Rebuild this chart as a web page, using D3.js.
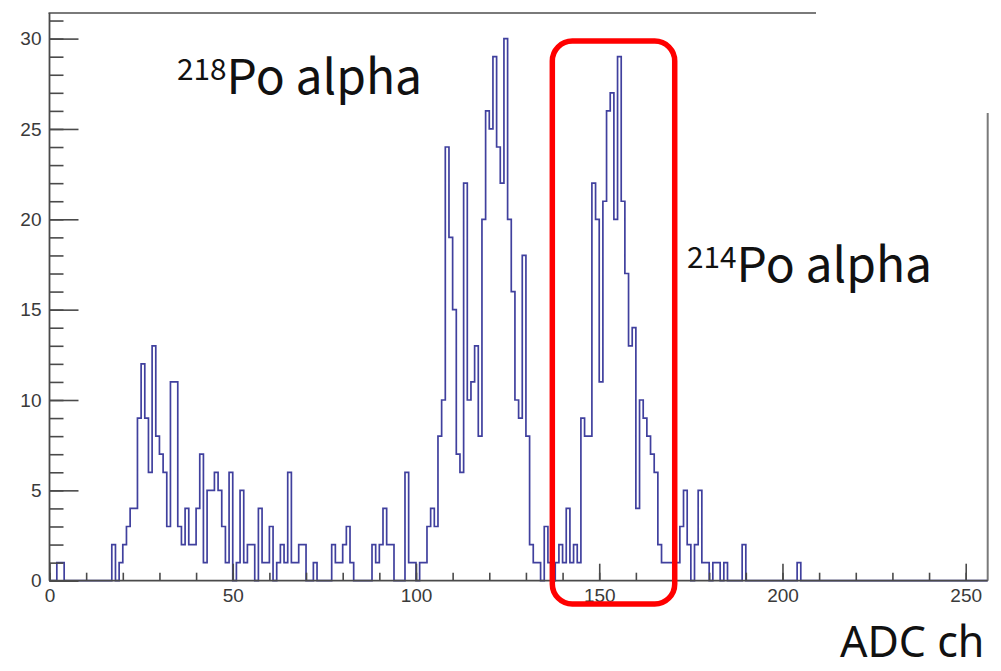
<!DOCTYPE html>
<html>
<head>
<meta charset="utf-8">
<script src="https://cdn.jsdelivr.net/npm/d3@7/dist/d3.min.js"></script>
<style>
  body { margin: 0; background: #fff; }
  svg { display: block; }
</style>
</head>
<body>
<script>
// canvas size
const width = 1001;
const height = 671;

// counts per ADC channel (bin width 1, channels 0..255)
const counts = [
  0, 0, 1, 1, 0, 0, 0, 0, 0, 0,          // 0-9
  0, 0, 0, 0, 0, 0, 0, 2, 0, 1,          // 10-19
  2, 3, 4, 4, 9, 12, 9, 6, 13, 8,        // 20-29
  7, 6, 3, 11, 11, 3, 2, 4, 2, 2,        // 30-39
  4, 7, 1, 5, 5, 6, 5, 3, 1, 6,          // 40-49
  0, 1, 5, 1, 2, 2, 0, 4, 1, 1,          // 50-59
  3, 0, 1, 2, 1, 6, 1, 1, 2, 2,          // 60-69
  0, 0, 1, 0, 0, 0, 0, 2, 1, 1,          // 70-79
  2, 3, 1, 0, 0, 0, 0, 0, 2, 1,          // 80-89
  2, 4, 2, 2, 0, 0, 0, 6, 1, 1,          // 90-99
  0, 1, 1, 3, 4, 3, 8, 10, 24, 19,       // 100-109
  15, 7, 6, 22, 10, 11, 13, 8, 20, 26,   // 110-119
  25, 29, 24, 22, 30, 20, 16, 10, 9, 18, // 120-129
  8, 2, 1, 1, 0, 3, 1, 0, 1, 2,          // 130-139
  1, 4, 1, 2, 1, 9, 8, 8, 22, 20,        // 140-149
  11, 21, 26, 27, 20, 29, 21, 17, 13, 14,// 150-159
  4, 10, 9, 8, 7, 6, 2, 1, 1, 1,         // 160-169
  1, 1, 3, 5, 2, 0, 2, 5, 1, 1,          // 170-179
  0, 1, 1, 0, 1, 0, 0, 0, 0, 2,          // 180-189
  0, 0, 0, 0, 0, 0, 0, 0, 0, 0,          // 190-199
  0, 0, 0, 0, 1, 0, 0, 0, 0, 0,          // 200-209
  0, 0, 0, 0, 0, 0, 0, 0, 0, 0,          // 210-219
  0, 0, 0, 0, 0, 0, 0, 0, 0, 0,          // 220-229
  0, 0, 0, 0, 0, 0, 0, 0, 0, 0,          // 230-239
  0, 0, 0, 0, 0, 0, 0, 0, 0, 0,          // 240-249
  0, 0, 0, 0, 0, 0                       // 250-255
];

// axis ticks
const xTicks = [0, 50, 100, 150, 200, 250];
const xMinorTicks = [0, 10, 20, 30, 40, 50, 60, 70, 80, 90, 100, 110, 120, 130, 140, 150,
                     160, 170, 180, 190, 200, 210, 220, 230, 240, 250];
const yTicks = [0, 5, 10, 15, 20, 25, 30];
const yMinorTicks = [0, 1, 2, 3, 4, 5, 6, 7, 8, 9, 10, 11, 12, 13, 14, 15, 16, 17, 18, 19, 20,
                     21, 22, 23, 24, 25, 26, 27, 28, 29, 30, 31];

// the highlighted range (red box), in channels
const boxRange = [137.2, 170.6];

const svg = d3.select("body").append("svg")
  .attr("width", width)
  .attr("height", height);

// scales
const x = d3.scaleLinear().domain([0, 256]).range([49.5, 987.7]);
const y = d3.scaleLinear().domain([0, 31.5]).range([580.7, 11.5]);

// histogram as a step line
const pts = counts.map((c, i) => [i, c]);
pts.push([counts.length, counts[counts.length - 1]]);

const line = d3.line()
  .x(d => x(d[0]))
  .y(d => y(d[1]))
  .curve(d3.curveStepAfter);

svg.append("path")
  .datum(pts)
  .attr("d", line)
  .attr("fill", "none")
  .attr("stroke", "#40409e")
  .attr("stroke-width", 1.7);

// frame pieces (top and right parts are partly hidden in the original)
svg.append("line")
  .attr("x1", x(0) - 1).attr("x2", 816)
  .attr("y1", 13).attr("y2", 13)
  .attr("stroke", "#7a7a7a").attr("stroke-width", 2);
svg.append("line")
  .attr("x1", x(256)).attr("x2", x(256))
  .attr("y1", 113).attr("y2", y(0))
  .attr("stroke", "#7a7a7a").attr("stroke-width", 2);

// x axis
const gx = svg.append("g").attr("transform", `translate(0,${y(0)})`);
gx.call(d3.axisBottom(x).tickValues(xMinorTicks).tickSize(-8).tickFormat(""));
gx.call(g => g.select(".domain").remove());
const gxMajor = svg.append("g").attr("transform", `translate(0,${y(0)})`)
  .call(d3.axisBottom(x).tickValues(xTicks).tickSize(-17).tickPadding(8).tickSizeOuter(0));
gxMajor.select(".domain").attr("d", `M${x(0)},0H${x(256)}`);

// y axis
const gy = svg.append("g").attr("transform", `translate(${x(0)},0)`);
gy.call(d3.axisLeft(y).tickValues(yMinorTicks).tickSize(-14).tickFormat(""));
gy.call(g => g.select(".domain").remove());
const gyMajor = svg.append("g").attr("transform", `translate(${x(0)},0)`)
  .call(d3.axisLeft(y).tickValues(yTicks).tickSize(-29).tickPadding(8).tickSizeOuter(0));
gyMajor.select(".domain").attr("d", `M0,${y(0)}V13`);

svg.selectAll(".tick line").attr("stroke", "#4a4a4a").attr("stroke-width", 1.6);
svg.selectAll(".domain").attr("stroke", "#4a4a4a").attr("stroke-width", 1.8);
svg.selectAll(".tick text")
  .attr("font-family", "'Liberation Sans', Arial, sans-serif")
  .attr("font-size", 19)
  .attr("fill", "#3a3a3a");

// red box
svg.append("rect")
  .attr("x", x(boxRange[0]))
  .attr("y", 41)
  .attr("width", x(boxRange[1]) - x(boxRange[0]))
  .attr("height", 563)
  .attr("rx", 20).attr("ry", 20)
  .attr("fill", "none")
  .attr("stroke", "#ff0000")
  .attr("stroke-width", 5.5);

// labels
const labelFont = "'Noto Sans CJK JP', 'Noto Sans', sans-serif";

function isotope(xPos, yBase, mass, name, size) {
  const t = svg.append("text")
    .attr("x", xPos).attr("y", yBase)
    .attr("font-family", labelFont)
    .attr("fill", "#111");
  t.append("tspan").text(mass)
    .attr("font-size", size * 0.62)
    .attr("dy", -size * 0.3);
  t.append("tspan").text(name)
    .attr("font-size", size)
    .attr("dy", size * 0.3);
}

isotope(177, 94, "218", "Po alpha", 48);
isotope(687, 282, "214", "Po alpha", 48);

// axis title: Latin-only font keeps its box clear of the tick labels
svg.append("text")
  .attr("x", 840).attr("y", 657)
  .attr("font-family", "'Noto Sans', sans-serif")
  .attr("font-size", 43)
  .attr("fill", "#111")
  .text("ADC ch");
</script>
</body>
</html>
